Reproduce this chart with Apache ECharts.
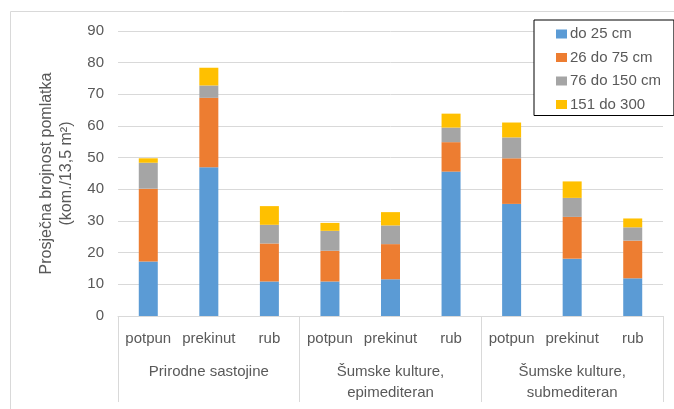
<!DOCTYPE html>
<html>
<head>
<meta charset="utf-8">
<script src="https://cdn.jsdelivr.net/npm/echarts@6/dist/echarts.min.js"></script>
<style>
html,body{margin:0;padding:0;background:#fff;}
#chart{width:674px;height:409px;}
</style>
</head>
<body>
<div id="chart"></div>
<script>
var subCategories = ["potpun","prekinut","rub","potpun","prekinut","rub","potpun","prekinut","rub"];
var groups = ["Prirodne sastojine","Šumske kulture,\nepimediteran","Šumske kulture,\nsubmediteran"];
var seriesNames = ["do 25 cm","26 do 75 cm","76 do 150 cm","151 do 300"];
var do25 = [17.2, 47.0, 10.9, 10.9, 11.6, 45.6, 35.4, 18.1, 11.9];
var do75 = [23.0, 21.9, 12.0, 9.7, 11.1, 9.3, 14.4, 13.2, 11.9];
var do150 = [8.2, 3.9, 5.9, 6.3, 5.9, 4.6, 6.6, 6.0, 4.2];
var do300 = [1.4, 5.6, 5.9, 2.5, 4.2, 4.4, 4.7, 5.2, 2.8];
var yTicks = [0, 10, 20, 30, 40, 50, 60, 70, 80, 90];

var colors = ["#5b9bd5","#ed7d31","#a5a5a5","#ffc000"];
var FONT = "'Liberation Sans', Arial, sans-serif";
var TXT = "#595959";
var values = [do25, do75, do150, do300];

var chart = echarts.init(document.getElementById('chart'), null, {renderer: 'canvas'});
chart.setOption({
  animation: false,
  color: colors,
  textStyle: {fontFamily: FONT},
  graphic: [{
    type: 'rect', silent: true, z: -10,
    shape: {x: 10.5, y: 11.5, width: 700, height: 500},
    style: {fill: 'none', stroke: '#d9d9d9', lineWidth: 1}
  }],
  grid: {left: 118, right: 11, top: 31, bottom: 93, containLabel: false},
  legend: {
    orient: 'vertical',
    left: 534, top: 20,
    padding: [6, 13, 3, 22],
    itemGap: 7.5,
    itemWidth: 11, itemHeight: 9,
    icon: 'rect',
    borderColor: '#000', borderWidth: 1,
    backgroundColor: '#fff',
    textStyle: {color: TXT, fontSize: 15, fontFamily: FONT, lineHeight: 16, padding: [0,0,0,-2]},
    data: seriesNames
  },
  xAxis: [{
    type: 'category',
    data: subCategories,
    position: 'bottom',
    axisLine: {show: true, lineStyle: {color: '#d9d9d9', width: 1}},
    axisTick: {show: false},
    axisLabel: {interval: 0, color: TXT, fontSize: 15, fontFamily: FONT, margin: 15}
  }, {
    type: 'category',
    data: groups,
    position: 'bottom',
    axisLine: {show: false},
    axisTick: {show: true, length: 86, interval: 0, lineStyle: {color: '#d9d9d9', width: 1}},
    axisLabel: {interval: 0, color: TXT, fontSize: 15, fontFamily: FONT, margin: 45, lineHeight: 21}
  }],
  yAxis: {
    type: 'value',
    min: yTicks[0], max: yTicks[yTicks.length - 1], interval: 10,
    name: 'Prosječna brojnost pomlatka\n(kom./13,5 m²)',
    nameLocation: 'middle',
    nameGap: 38,
    nameTextStyle: {color: TXT, fontSize: 16, fontFamily: FONT, lineHeight: 20},
    axisLine: {show: false},
    axisTick: {show: false},
    axisLabel: {color: TXT, fontSize: 15, fontFamily: FONT, margin: 14},
    splitLine: {lineStyle: {color: '#d9d9d9', width: 1}}
  },
  series: seriesNames.map(function (n, i) {
    return {
      name: n, type: 'bar', stack: 'total', barWidth: 19,
      xAxisIndex: 0,
      data: values[i]
    };
  })
});
</script>
</body>
</html>
